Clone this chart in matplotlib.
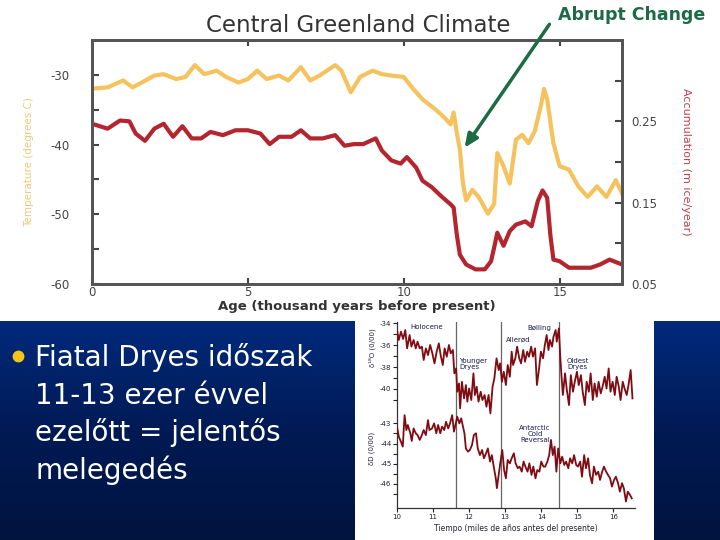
import numpy as np
import matplotlib
matplotlib.use("Agg")
import matplotlib.pyplot as plt
from matplotlib.colors import LinearSegmentedColormap

plt.rcParams["axes.unicode_minus"] = False

# --- main chart: Central Greenland (GISP2) ---
ages_t = [0, 0.2, 0.5, 0.8, 1.0, 1.3, 1.6, 2.0, 2.3, 2.7, 3.0, 3.3, 3.6, 4.0, 4.3,
          4.7, 5.0, 5.3, 5.6, 6.0, 6.3, 6.7, 7.0, 7.3, 7.8, 8.0, 8.3, 8.6, 9.0, 9.3,
          9.6, 10.0, 10.3, 10.6, 11.0, 11.3, 11.5, 11.6, 11.7, 11.8, 11.9, 12.0, 12.2,
          12.4, 12.7, 12.9, 13.0, 13.2, 13.4, 13.6, 13.8, 14.0, 14.2, 14.4, 14.5, 14.6,
          14.8, 15.0, 15.3, 15.6, 15.9, 16.2, 16.5, 16.8, 17.0]
temp = [-32.0, -31.9, -31.8, -31.2, -30.8, -31.8, -31.1, -30.1, -29.9, -30.6,
        -30.3, -28.6, -29.9, -29.4, -30.3, -31.1, -30.6, -29.4, -30.6, -30.1,
        -30.8, -28.9, -30.8, -30.1, -28.6, -29.4, -32.5, -30.3, -29.4, -29.9,
        -30.1, -30.3, -32.0, -33.5, -34.9, -36.1, -37.1, -35.4, -38.3, -40.7,
        -45.6, -48.0, -46.5, -47.5, -49.9, -48.5, -41.2, -43.1, -45.6, -39.3,
        -38.6, -39.8, -38.1, -34.4, -32.0, -33.5, -39.8, -43.1, -43.6, -46.0,
        -47.5, -46.0, -47.5, -45.1, -47.0]

ages_a = [0, 0.5, 0.9, 1.2, 1.4, 1.7, 2.0, 2.3, 2.6, 2.9, 3.2, 3.5, 3.8, 4.2, 4.6,
          5.0, 5.4, 5.7, 6.0, 6.4, 6.7, 7.0, 7.4, 7.8, 8.1, 8.4, 8.7, 9.1, 9.3, 9.6,
          9.9, 10.1, 10.4, 10.6, 10.9, 11.2, 11.5, 11.6, 11.7, 11.8, 12.0, 12.3, 12.6,
          12.8, 12.9, 13.0, 13.2, 13.4, 13.6, 13.9, 14.1, 14.3, 14.45, 14.6, 14.7,
          14.8, 15.0, 15.3, 15.6, 16.0, 16.3, 16.6, 17.0]
accum = [0.247, 0.241, 0.251, 0.250, 0.235, 0.226, 0.241, 0.247, 0.231, 0.244,
         0.229, 0.229, 0.237, 0.233, 0.239, 0.239, 0.235, 0.222, 0.231, 0.231,
         0.239, 0.229, 0.229, 0.233, 0.220, 0.222, 0.222, 0.229, 0.214, 0.202,
         0.198, 0.206, 0.193, 0.177, 0.169, 0.158, 0.148, 0.144, 0.111, 0.086,
         0.074, 0.068, 0.068, 0.078, 0.095, 0.113, 0.097, 0.115, 0.123, 0.127,
         0.121, 0.152, 0.165, 0.156, 0.111, 0.080, 0.078, 0.070, 0.070, 0.070,
         0.074, 0.080, 0.074]

# --- inset chart: d18O and dD, 10-16.5 kyr ---
ages_o = [10.00, 10.05, 10.11, 10.17, 10.23, 10.28, 10.35, 10.40, 10.46, 10.52,
          10.57, 10.63, 10.69, 10.74, 10.80, 10.86, 10.92, 10.98, 11.04, 11.10,
          11.16, 11.21, 11.27, 11.32, 11.38, 11.44, 11.49, 11.55, 11.59, 11.64,
          11.67, 11.72, 11.75, 11.80, 11.86, 11.91, 11.95, 12.00, 12.06, 12.12,
          12.16, 12.21, 12.26, 12.32, 12.37, 12.43, 12.48, 12.54, 12.59, 12.65,
          12.70, 12.76, 12.82, 12.86, 12.91, 12.96, 13.02, 13.07, 13.13, 13.18,
          13.22, 13.28, 13.33, 13.39, 13.44, 13.50, 13.55, 13.61, 13.66, 13.72,
          13.77, 13.83, 13.88, 13.94, 13.99, 14.05, 14.10, 14.15, 14.20, 14.24,
          14.30, 14.34, 14.40, 14.43, 14.49, 14.53, 14.56, 14.60, 14.66, 14.71,
          14.77, 14.82, 14.88, 14.93, 14.99, 15.04, 15.10, 15.15, 15.21, 15.26,
          15.32, 15.37, 15.43, 15.48, 15.54, 15.59, 15.65, 15.70, 15.76, 15.81,
          15.87, 15.92, 15.98, 16.04, 16.09, 16.15, 16.20, 16.26, 16.31, 16.37,
          16.42, 16.48, 16.53]
d18o = [-34.61, -35.52, -34.76, -35.43, -34.61, -36.29, -35.07, -36.13, -35.52, -36.29,
        -35.68, -36.29, -36.13, -37.35, -36.29, -36.90, -35.98, -36.74, -37.66, -36.59,
        -35.83, -36.90, -37.81, -36.29, -37.05, -35.98, -36.74, -36.44, -38.57, -38.12,
        -40.25, -39.49, -41.77, -39.34, -40.86, -39.64, -41.16, -39.95, -41.01, -38.57,
        -40.55, -39.79, -41.16, -40.25, -41.01, -40.55, -41.62, -40.55, -42.23, -39.79,
        -39.03, -37.20, -38.27, -37.66, -39.34, -38.42, -39.64, -37.81, -38.88, -36.59,
        -37.81, -37.20, -36.13, -37.20, -37.66, -36.44, -37.51, -36.59, -37.05, -36.13,
        -37.05, -36.29, -39.64, -38.12, -36.59, -37.20, -35.98, -35.07, -36.44, -35.52,
        -36.13, -35.22, -34.61, -35.68, -34.46, -37.20, -38.73, -40.55, -38.57, -40.10,
        -41.47, -38.73, -40.25, -39.34, -38.42, -39.64, -38.73, -40.25, -41.47, -39.34,
        -40.25, -38.57, -41.01, -39.49, -40.71, -39.34, -40.40, -39.79, -38.88, -39.95,
        -38.12, -40.25, -39.34, -40.55, -38.88, -39.79, -41.01, -39.34, -39.95, -40.55,
        -39.64, -38.27, -40.86]

ages_d = [10.00, 10.05, 10.11, 10.16, 10.21, 10.26, 10.30, 10.37, 10.41, 10.46,
          10.52, 10.57, 10.63, 10.69, 10.74, 10.80, 10.86, 10.90, 10.97, 11.03,
          11.09, 11.14, 11.20, 11.25, 11.31, 11.36, 11.42, 11.47, 11.53, 11.58,
          11.63, 11.67, 11.73, 11.78, 11.82, 11.87, 11.91, 11.97, 12.02, 12.08,
          12.13, 12.19, 12.24, 12.30, 12.36, 12.41, 12.47, 12.52, 12.58, 12.63,
          12.69, 12.74, 12.77, 12.82, 12.87, 12.92, 12.97, 13.02, 13.07, 13.13,
          13.18, 13.24, 13.29, 13.35, 13.40, 13.46, 13.51, 13.56, 13.62, 13.67,
          13.73, 13.78, 13.84, 13.89, 13.95, 14.00, 14.06, 14.11, 14.17, 14.22,
          14.27, 14.32, 14.37, 14.42, 14.47, 14.53, 14.58, 14.64, 14.69, 14.75,
          14.80, 14.86, 14.91, 14.97, 15.02, 15.08, 15.13, 15.19, 15.24, 15.30,
          15.35, 15.41, 15.46, 15.52, 15.58, 15.63, 15.69, 15.74, 15.80, 15.85,
          15.91, 15.96, 16.02, 16.07, 16.13, 16.18, 16.24, 16.29, 16.35, 16.40,
          16.46, 16.51]
dd = [-43.16, -43.66, -43.91, -44.15, -42.59, -43.33, -43.08, -43.49, -43.87, -43.25,
      -43.49, -43.58, -43.82, -43.58, -43.33, -43.58, -42.84, -43.33, -43.25, -43.00,
      -43.49, -43.08, -43.49, -43.16, -43.33, -42.92, -43.25, -43.00, -42.59, -43.41,
      -43.00, -42.67, -43.00, -42.75, -43.08, -43.49, -44.24, -44.40, -44.32, -44.07,
      -43.58, -43.49, -44.24, -44.57, -44.32, -44.73, -44.48, -44.24, -44.89, -44.57,
      -45.22, -45.72, -46.21, -45.55, -44.89, -44.32, -45.31, -45.72, -44.81, -44.98,
      -44.73, -44.48, -44.98, -45.22, -45.14, -45.39, -44.89, -45.14, -45.39, -44.98,
      -45.55, -45.14, -45.72, -45.31, -45.39, -44.89, -45.14, -45.14, -44.89, -44.57,
      -43.82, -44.57, -44.15, -45.39, -44.24, -44.98, -44.65, -45.06, -44.89, -45.22,
      -44.73, -44.98, -44.57, -45.06, -45.14, -44.89, -45.64, -44.57, -45.22, -44.73,
      -45.55, -45.97, -45.14, -45.55, -45.39, -45.80, -45.39, -45.14, -45.39, -45.55,
      -45.72, -46.13, -45.80, -45.64, -45.96, -46.38, -45.96, -46.21, -46.87, -46.38,
      -46.54, -46.71]
period_bounds = [11.63, 12.89, 14.49]

bullet_lines = ["Fiatal Dryes időszak", "11-13 ezer évvel", "ezelőtt = jelentős", "melegedés"]

W, H = 720, 540
fig = plt.figure(figsize=(7.2, 5.4), dpi=100)
fig.patch.set_facecolor("white")

def rect(x0, y0, x1, y1):
    # pixel box (top-left origin) -> figure fraction
    return [x0 / W, 1 - y1 / H, (x1 - x0) / W, (y1 - y0) / H]

def pixel_layer(z):
    a = fig.add_axes([0, 0, 1, 1], zorder=z)
    a.set_xlim(0, W)
    a.set_ylim(H, 0)
    a.axis("off")
    a.patch.set_visible(False)
    return a

# background layer: blue slide panels + bullet text
bg = pixel_layer(-5)
blue = LinearSegmentedColormap.from_list("slide", ["#002a7c", "#001a55", "#00143e"])
grad = np.linspace(0, 1, 256).reshape(-1, 1)
bg.imshow(grad, cmap=blue, aspect="auto", extent=(0, 355, H, 321), origin="upper")
bg.imshow(grad, cmap=blue, aspect="auto", extent=(654, W, H, 321), origin="upper")
bg.set_xlim(0, W)
bg.set_ylim(H, 0)
bg.plot([18], [356], "o", color="#f5c518", markersize=7.5)
for i, line in enumerate(bullet_lines):
    bg.text(35, 366 + i * 37.7, line, color="white", fontsize=20,
            family="DejaVu Sans", va="baseline", ha="left")

# main axes
ax = fig.add_axes(rect(92, 40, 622, 284))
ax.plot(ages_t, temp, color="#f6c25e", lw=3, solid_joinstyle="round")
ax.set_xlim(0, 17)
ax.set_ylim(-60, -25)
ax.set_xticks([0, 5, 10, 15])
ax.set_yticks([-60, -50, -40, -30])
ax.set_yticks([-55, -45, -35], minor=True)
ax.tick_params(axis="y", which="both", direction="in", length=5, width=1.5,
               colors="#444444", labelsize=8.5, pad=16)
ax.tick_params(axis="x", direction="in", length=4, width=1.5, colors="#444444",
               labelsize=8.5, pad=1.5, top=True)
for s in ax.spines.values():
    s.set_color("#555555")
    s.set_linewidth(2)
ax.set_ylabel("Temperature (degrees C)", color="#f0c878", fontsize=7.5, labelpad=12)
ax.set_xlabel("Age (thousand years before present)", fontsize=9.5, fontweight="bold",
              color="#333333", labelpad=1)

ax2 = ax.twinx()
ax2.plot(ages_a, accum, color="#b3262f", lw=3, solid_joinstyle="round")
ax2.set_ylim(0.05, 0.35)
ax2.set_yticks([0.05, 0.15, 0.25])
ax2.set_yticks([0.10, 0.20, 0.30], minor=True)
ax2.tick_params(axis="y", which="both", direction="in", length=5, width=1.5,
                colors="#444444", labelsize=8.5, pad=7)
for s in ax2.spines.values():
    s.set_color("#555555")
    s.set_linewidth(2)
ax2.set_ylabel("Accumulation (m ice/year)", color="#c0404c", fontsize=8,
               rotation=270, labelpad=24)

fig.text(358 / W, 1 - 26 / H, "Central Greenland Climate", ha="center", va="center",
         fontsize=16.5, color="#333333")

# inset axes
box = rect(397, 322, 635, 508)
axi = fig.add_axes(box)
axi.set_xlim(10, 16.6)
axi.set_ylim(0, 1)
axi.set_yticks([])
axi.set_xticks(range(10, 17))
axi.tick_params(axis="x", direction="out", length=3, width=0.8, labelsize=5,
                colors="#222233", pad=1.5)
for k in ["top", "right"]:
    axi.spines[k].set_visible(False)
for k in ["left", "bottom"]:
    axi.spines[k].set_color("#333333")
    axi.spines[k].set_linewidth(0.9)
for b in period_bounds:
    axi.axvline(b, color="#666666", lw=0.9)
axi.set_xlabel("Tiempo (miles de años antes del presente)", fontsize=5.5,
               color="#222233", labelpad=3)

axu = fig.add_axes(box, sharex=axi)
axu.patch.set_visible(False)
axu.plot(ages_o, d18o, color="#7e0c12", lw=1.3)
axu.set_ylim(-50.87, -33.88)
axu.set_yticks([-34, -36, -38, -40])
axu.set_yticks([-35, -37, -39, -41], minor=True)
axu.tick_params(axis="y", which="both", direction="out", length=3, width=0.8,
                labelsize=5, colors="#222233", pad=1)
axu.tick_params(axis="x", bottom=False, labelbottom=False)
for s in axu.spines.values():
    s.set_visible(False)

axl = fig.add_axes(box, sharex=axi)
axl.patch.set_visible(False)
axl.plot(ages_d, dd, color="#7e0c12", lw=1.3)
axl.set_ylim(-47.19, -37.98)
axl.set_yticks([-43, -44, -45, -46])
axl.set_yticks([-43.5, -44.5, -45.5, -46.5], minor=True)
axl.tick_params(axis="y", which="both", direction="out", length=3, width=0.8,
                labelsize=5, colors="#222233", pad=1)
axl.tick_params(axis="x", bottom=False, labelbottom=False)
for s in axl.spines.values():
    s.set_visible(False)
axi.set_xlim(10, 16.6)

# top layer: arrow and labels
top = pixel_layer(10)
top.text(632, 15, "Abrupt Change", ha="center", va="center", fontsize=12.5,
         fontweight="bold", color="#1d6b45")
top.annotate("", xy=(463, 150), xytext=(551, 22),
             arrowprops=dict(arrowstyle="-|>,head_length=0.8,head_width=0.35",
                             color="#1d6b45", lw=2.5))

lab = dict(fontsize=5, color="#1a1a4a", ha="left", va="center", linespacing=0.95)
top.text(372, 348, "δ¹⁸O (0/00)", rotation=90, ha="center", va="center",
         fontsize=5, color="#222233")
top.text(372, 448, "δD (0/00)", rotation=90, ha="center", va="center",
         fontsize=5, color="#222233")
top.text(410, 327, "Holocene", **lab)
top.text(527, 328, "Bølling", **lab)
top.text(506, 340, "Allerød", **lab)
top.text(459, 364, "Younger\nDryes", **lab)
top.text(567, 364, "Oldest\nDryes", **lab)
top.text(535, 434, "Antarctic\nCold\nReversal", fontsize=5, color="#1a1a4a",
         ha="center", va="center", linespacing=0.95)

fig.savefig("out.png", dpi=100)
